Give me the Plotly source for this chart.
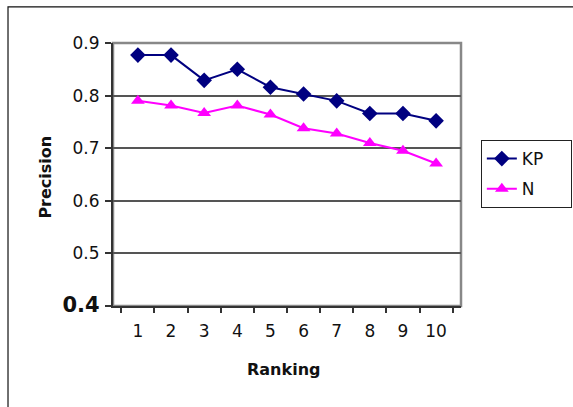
import plotly.graph_objects as go

# Precision at each ranking position for the two methods
ranking = ["1", "2", "3", "4", "5", "6", "7", "8", "9", "10"]
kp_precision = [0.877, 0.877, 0.829, 0.850, 0.816, 0.803, 0.790, 0.766, 0.766, 0.752]
n_precision = [0.790, 0.781, 0.767, 0.781, 0.764, 0.738, 0.728, 0.710, 0.695, 0.671]

y_ticks = [0.4, 0.5, 0.6, 0.7, 0.8, 0.9]
y_tick_text = ["<b><span style='font-size:21px'>0.4</span></b>", "0.5", "0.6", "0.7", "0.8", "0.9"]

font_family = "DejaVu Sans, Verdana, sans-serif"
text_color = "#111111"
pad = "\u00a0" * 4  # widens the legend box

fig = go.Figure()
fig.add_trace(go.Scatter(
    x=ranking, y=kp_precision, name="KP" + pad, mode="lines+markers",
    line=dict(color="#000080", width=2),
    marker=dict(symbol="diamond", size=12, color="#000080"),
    legendgroup="kp",
))
fig.add_trace(go.Scatter(
    x=ranking, y=n_precision, name="N", mode="lines+markers",
    line=dict(color="#FF00FF", width=2),
    marker=dict(symbol="triangle-up", size=12, color="#FF00FF"),
    legendgroup="n",
))

fig.update_layout(
    width=573, height=407,
    margin=dict(l=113, r=112, t=43, b=101, autoexpand=False),
    paper_bgcolor="white", plot_bgcolor="white",
    font=dict(family=font_family, size=17, color=text_color),
    showlegend=True,
    legend=dict(
        x=1.057, y=0.631, xanchor="left", yanchor="top",
        bordercolor="#222222", borderwidth=1, bgcolor="white",
        font=dict(size=17, color=text_color),
        tracegroupgap=5, itemwidth=30,
    ),
    xaxis=dict(
        type="category", tickson="boundaries", tickangle=0,
        ticks="outside", ticklen=5, tickwidth=1.5, tickcolor="#333333",
        showgrid=False, showline=True, linecolor="#333333", linewidth=2,
        tickfont=dict(size=17, color=text_color),
        ticklabelstandoff=9,
    ),
    yaxis=dict(
        range=[0.4, 0.9], tickvals=y_ticks, ticktext=y_tick_text,
        ticks="outside", ticklen=6, tickwidth=1.5, tickcolor="#333333",
        showgrid=True, gridcolor="#555555", gridwidth=1.5,
        showline=True, linecolor="#333333", linewidth=2,
        tickfont=dict(size=17, color=text_color),
        ticklabelstandoff=2,
        zeroline=False,
    ),
    shapes=[
        # gray frame round the plot area
        dict(type="rect", xref="paper", yref="paper", x0=0, x1=1, y0=0, y1=1,
             line=dict(color="#888888", width=2.5), layer="below"),
        # outer chart border
        dict(type="rect", xref="paper", yref="paper", x0=-0.3017, x1=1.6, y0=-0.6, y1=1.137,
             line=dict(color="#111111", width=1.2), layer="below"),
    ],
    annotations=[
        dict(text="<b>Ranking</b>", xref="paper", yref="paper", x=0.49, y=-0.243,
             xanchor="center", yanchor="middle", showarrow=False,
             font=dict(size=16, color=text_color)),
        dict(text="<b>Precision</b>", xref="paper", yref="paper", x=-0.194, y=0.49,
             xanchor="center", yanchor="middle", showarrow=False, textangle=-90,
             font=dict(size=16, color=text_color)),
    ],
)

fig.write_html("out.html")
